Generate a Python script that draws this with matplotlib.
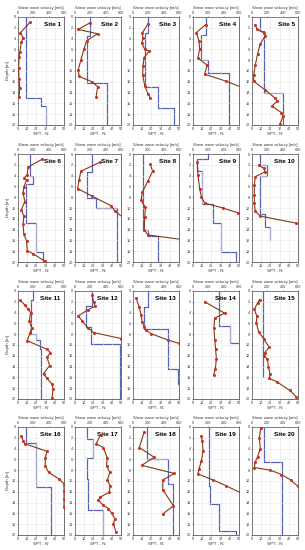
import numpy as np
import matplotlib
matplotlib.use('Agg')
import matplotlib.pyplot as plt

plt.rcParams['font.family'] = ['Liberation Sans', 'DejaVu Sans']

# Vs profiles: layer boundaries [m] and shear wave velocity [m/s] per layer
vs_depth = {
    1: [0, 15, 16.5, 20],
    2: [0, 3.5, 12.3, 20],
    3: [0, 3, 13, 16.8, 20],
    4: [0, 3.3, 8, 10.3, 20],
    5: [0, 2.5, 14, 20],
    6: [0, 4, 5.5, 12.7, 18.2, 20],
    7: [0, 3.4, 8.2, 10, 20],
    8: [0, 14, 15.2, 20],
    9: [0, 1, 3.2, 9.3, 12.7, 18.2, 20],
    10: [0, 2, 4, 11.2, 13.6, 16],
    11: [0, 1.7, 8, 9, 10.8, 20],
    12: [0, 2.8, 6.7, 9.9, 20],
    13: [0, 3, 7, 14.5, 17.3],
    14: [0, 6.4, 9.7, 9.7],
    15: [0, 16],
    16: [0, 3, 11.2, 20],
    17: [0, 2.3, 5.7, 9.6, 15.4, 20],
    18: [0, 6, 10.5, 20],
    19: [0, 11, 14.2, 19.3, 20],
    20: [0, 6.5, 20],
}
vs_value = {
    1: [100, 300, 360],
    2: [190, 150, 420],
    3: [190, 150, 320, 540],
    4: [165, 100, 195, 470],
    5: [110, 155, 400],
    6: [160, 190, 100, 240, 330],
    7: [220, 150, 280, 545],
    8: [130, 200, 325],
    9: [200, 55, 120, 260, 360, 555],
    10: [105, 190, 105, 175, 240],
    11: [200, 170, 240, 290, 300],
    12: [220, 140, 210, 590],
    13: [200, 140, 460, 590],
    14: [340, 480, 650],
    15: [145],
    16: [100, 235, 430],
    17: [150, 230, 150, 170, 360],
    18: [185, 455, 520],
    19: [210, 220, 345, 565],
    20: [150, 395],
}

# SPT-N profiles: depth [m], N
spt_depth = {
    1: [1, 2.9, 3.8, 4.7, 6.5, 7.4, 9.5, 11.4, 13.2, 14.8],
    2: [1.1, 2.3, 3.1, 4.4, 5.9, 8, 9.8, 11, 12, 12.9, 14.8],
    3: [1.3, 3, 3.9, 4.8, 6, 6.3, 7.5, 9, 10.8, 12.7, 14.2, 15],
    4: [1.4, 2.9, 4.4, 5.9, 7.6, 8.9, 10.6, 11.9, 13],
    5: [1.4, 2.3, 2.9, 3.5, 5, 6.8, 8.9, 10.7, 11.9, 13.5, 15, 15.6, 16.5, 17.7, 18.3, 19.8],
    6: [1, 2.4, 3.8, 4.5, 4.8, 6.1, 7.3, 8.8, 10.3, 11.5, 13, 14.8, 16.1, 17.9, 18.5, 19.9],
    7: [1.5, 3.2, 4.8, 6.4, 7.8, 9.6, 10.5, 11.7],
    8: [1.9, 3.2, 5, 7.1, 8.6, 9.9, 11.6, 14, 15, 15.8],
    9: [1.5, 3.9, 6.4, 7.9, 9.1, 10, 10.9, 11.1],
    10: [2.1, 2.6, 3.3, 4.2, 5.8, 7.6, 9.1, 10.6, 11.5, 12.8, 13.1],
    11: [1.7, 2.6, 3.4, 4, 5.6, 6.8, 7.8, 9.2, 10.8, 11.4, 12.3, 13.8, 15.3, 16.2, 17.2, 18.1, 19.9],
    12: [0.8, 2, 2.8, 3.5, 4.6, 5.6, 6.8, 7.7, 8.8],
    13: [1.3, 3, 4.5, 5.8, 6.7, 7.3, 7.9, 9.1, 9.7],
    14: [2, 4.1, 5, 6.8, 9, 10.8, 12.6, 14.4, 15.5],
    15: [1.6, 2.2, 3.4, 4.7, 5.9, 7.5, 8.8, 10.4, 11.4, 12, 12.6, 14.1, 15.3, 16.2, 16.8, 18.4, 19.6],
    16: [1.7, 2.6, 3.1, 4.5, 5.7, 7.2, 8.4, 9.6, 10.5, 11.8, 13.3, 14.8],
    17: [1.4, 3.1, 3.8, 5.7, 7.2, 8.4, 9.9, 10.9, 12.1, 13, 13.6, 14.5, 15.1, 16, 17, 17.9, 19.4],
    18: [0.9, 3.8, 5.6, 7.1, 8.6, 9.8, 11.6, 14.6, 16.1],
    19: [1.7, 2.6, 4.5, 6.3, 7.8, 8.7, 9.8, 10.9, 12.1],
    20: [0.2, 2, 4, 5.5, 6.5, 7.5, 8, 8.8, 9.8, 11],
}
spt_n = {
    1: [13, 2.6, 5.5, 3.7, 1.9, 1.1, 0.7, 1.1, 1.9, 1.1],
    2: [16, 3.5, 24.5, 12.6, 9.8, 6.3, 3.5, 4.5, 18.5, 24.5, 23],
    3: [16.2, 10, 11, 9.5, 12.8, 17.9, 12, 11, 10.5, 12.8, 16.2, 18.9],
    4: [13.8, 3.6, 6.5, 7.2, 5.4, 15.2, 12.7, 36.2, 52.5],
    5: [3.6, 5.4, 12.5, 14.3, 8.9, 6.1, 3.6, 1.8, 1.8, 14.3, 25, 27.5, 21.4, 32, 33.9, 30.4],
    6: [25.9, 11.1, 10, 6.3, 9.3, 6.3, 5.6, 7.4, 3.7, 6.3, 5.6, 6.3, 9.3, 10, 16.7, 29.6],
    7: [27.3, 6.3, 4.5, 2.8, 18.5, 39.5, 43, 51.7],
    8: [18.9, 21.3, 16.2, 10.1, 8.8, 13.5, 12.8, 12.2, 16.2, 51.7],
    9: [4.7, 5.4, 7.2, 9.1, 12.7, 32.6, 48.9, 52.5],
    10: [7.1, 12.5, 14.3, 3.6, 2.5, 2.5, 2.5, 3.6, 8.9, 48, 52],
    11: [2.6, 7.4, 11.1, 13.7, 12.2, 14.8, 13, 10, 31.5, 35.2, 31.5, 34.4, 27.8, 31.5, 37, 38.1, 37],
    12: [18.5, 20.3, 22, 14, 3.5, 8, 14, 20.3, 50],
    13: [3.4, 6.8, 8.8, 10.1, 12.2, 14.5, 19.6, 38.2, 50],
    14: [12.7, 34.4, 23.6, 22.8, 23.6, 24.6, 25.4, 24.3, 22.5],
    15: [8.2, 6.1, 2.5, 5.4, 4.6, 7.1, 12.5, 18.6, 14, 12.5, 16.8, 17.9, 19.6, 18.9, 26.8, 41, 48.2],
    16: [3.7, 5.6, 7.4, 31.5, 29.6, 29.6, 33.3, 44.4, 50, 50, 50, 50],
    17: [28, 23, 30.8, 35, 34.3, 37.8, 35, 38.5, 37, 27.3, 25.5, 30.8, 36.4, 39.9, 43.4, 41.6, 44.4],
    18: [12.2, 6.8, 23, 9.5, 45, 32.4, 32.4, 43.9, 32.4],
    19: [9.1, 10.1, 10.9, 9.1, 6.5, 5.4, 21.7, 36.2, 50.7],
    20: [9.5, 8, 9, 6, 3.5, 2.5, 20, 32, 42, 50],
}

spt_ticks = [0, 10, 20, 30, 40, 50]
vs_ticks = [0, 200, 400, 600]
depth_ticks = list(range(0, 21, 2))

W, H = 305, 550
col_left = [18, 75, 133, 193, 252]
row_top = [17, 154, 291, 427]
pw, ph = 46, 108

fig = plt.figure(figsize=(W / 100, H / 100), dpi=100)

blue = '#5563b5'
brown = '#7b3d16'
tick_fs = 2.7
lab_fs = 2.9

for k in range(20):
    site = k + 1
    r, c = divmod(k, 5)
    x0 = col_left[c] / W
    y0 = 1 - (row_top[r] + ph) / H
    ax = fig.add_axes([x0, y0, pw / W, ph / H])
    axv = ax.twiny()

    # Vs step profile on the top axis
    d = vs_depth[site]
    v = vs_value[site]
    xs, ys = [], []
    for i in range(len(v)):
        xs += [v[i], v[i]]
        ys += [d[i], d[i + 1]]
    axv.plot(xs, ys, color=blue, lw=0.9)
    axv.set_xlim(0, 600)
    axv.set_xticks(vs_ticks)
    axv.tick_params(axis='x', labelsize=tick_fs, length=1, width=0.4, pad=0.5,
                    colors='#333333')
    axv.set_xlabel('Shear wave velocity [m/s]', fontsize=lab_fs, labelpad=1.2,
                   color='#333333')

    # SPT-N on the bottom axis
    ax.plot(spt_n[site], spt_depth[site], color=brown, lw=0.8,
            marker='o', ms=1.2, mfc='#d0301f', mec='#d0301f', zorder=5)
    ax.set_xlim(0, 50)
    ax.set_ylim(20, 0)
    ax.set_xticks(spt_ticks)
    ax.set_yticks(depth_ticks)
    ax.grid(True, color='#e6e6e6', lw=0.4)
    ax.tick_params(labelsize=tick_fs, length=1, width=0.4, pad=0.5,
                   colors='#333333')
    ax.set_xlabel('SPT - N', fontsize=lab_fs + 0.3, labelpad=0.6, color='#333333')
    if c == 0:
        ax.set_ylabel('Depth [m]', fontsize=lab_fs + 0.3, labelpad=1.5,
                      color='#333333')
    ax.text(0.93, 0.95, 'Site %d' % site, transform=ax.transAxes,
            ha='right', va='top', fontsize=4.6, fontweight='bold')

    ax.set_zorder(axv.get_zorder() + 1)
    ax.patch.set_visible(False)
    for a in (ax, axv):
        for s in a.spines.values():
            s.set_linewidth(0.5)
            s.set_color('#666666')

fig.savefig('out.png', dpi=100)
